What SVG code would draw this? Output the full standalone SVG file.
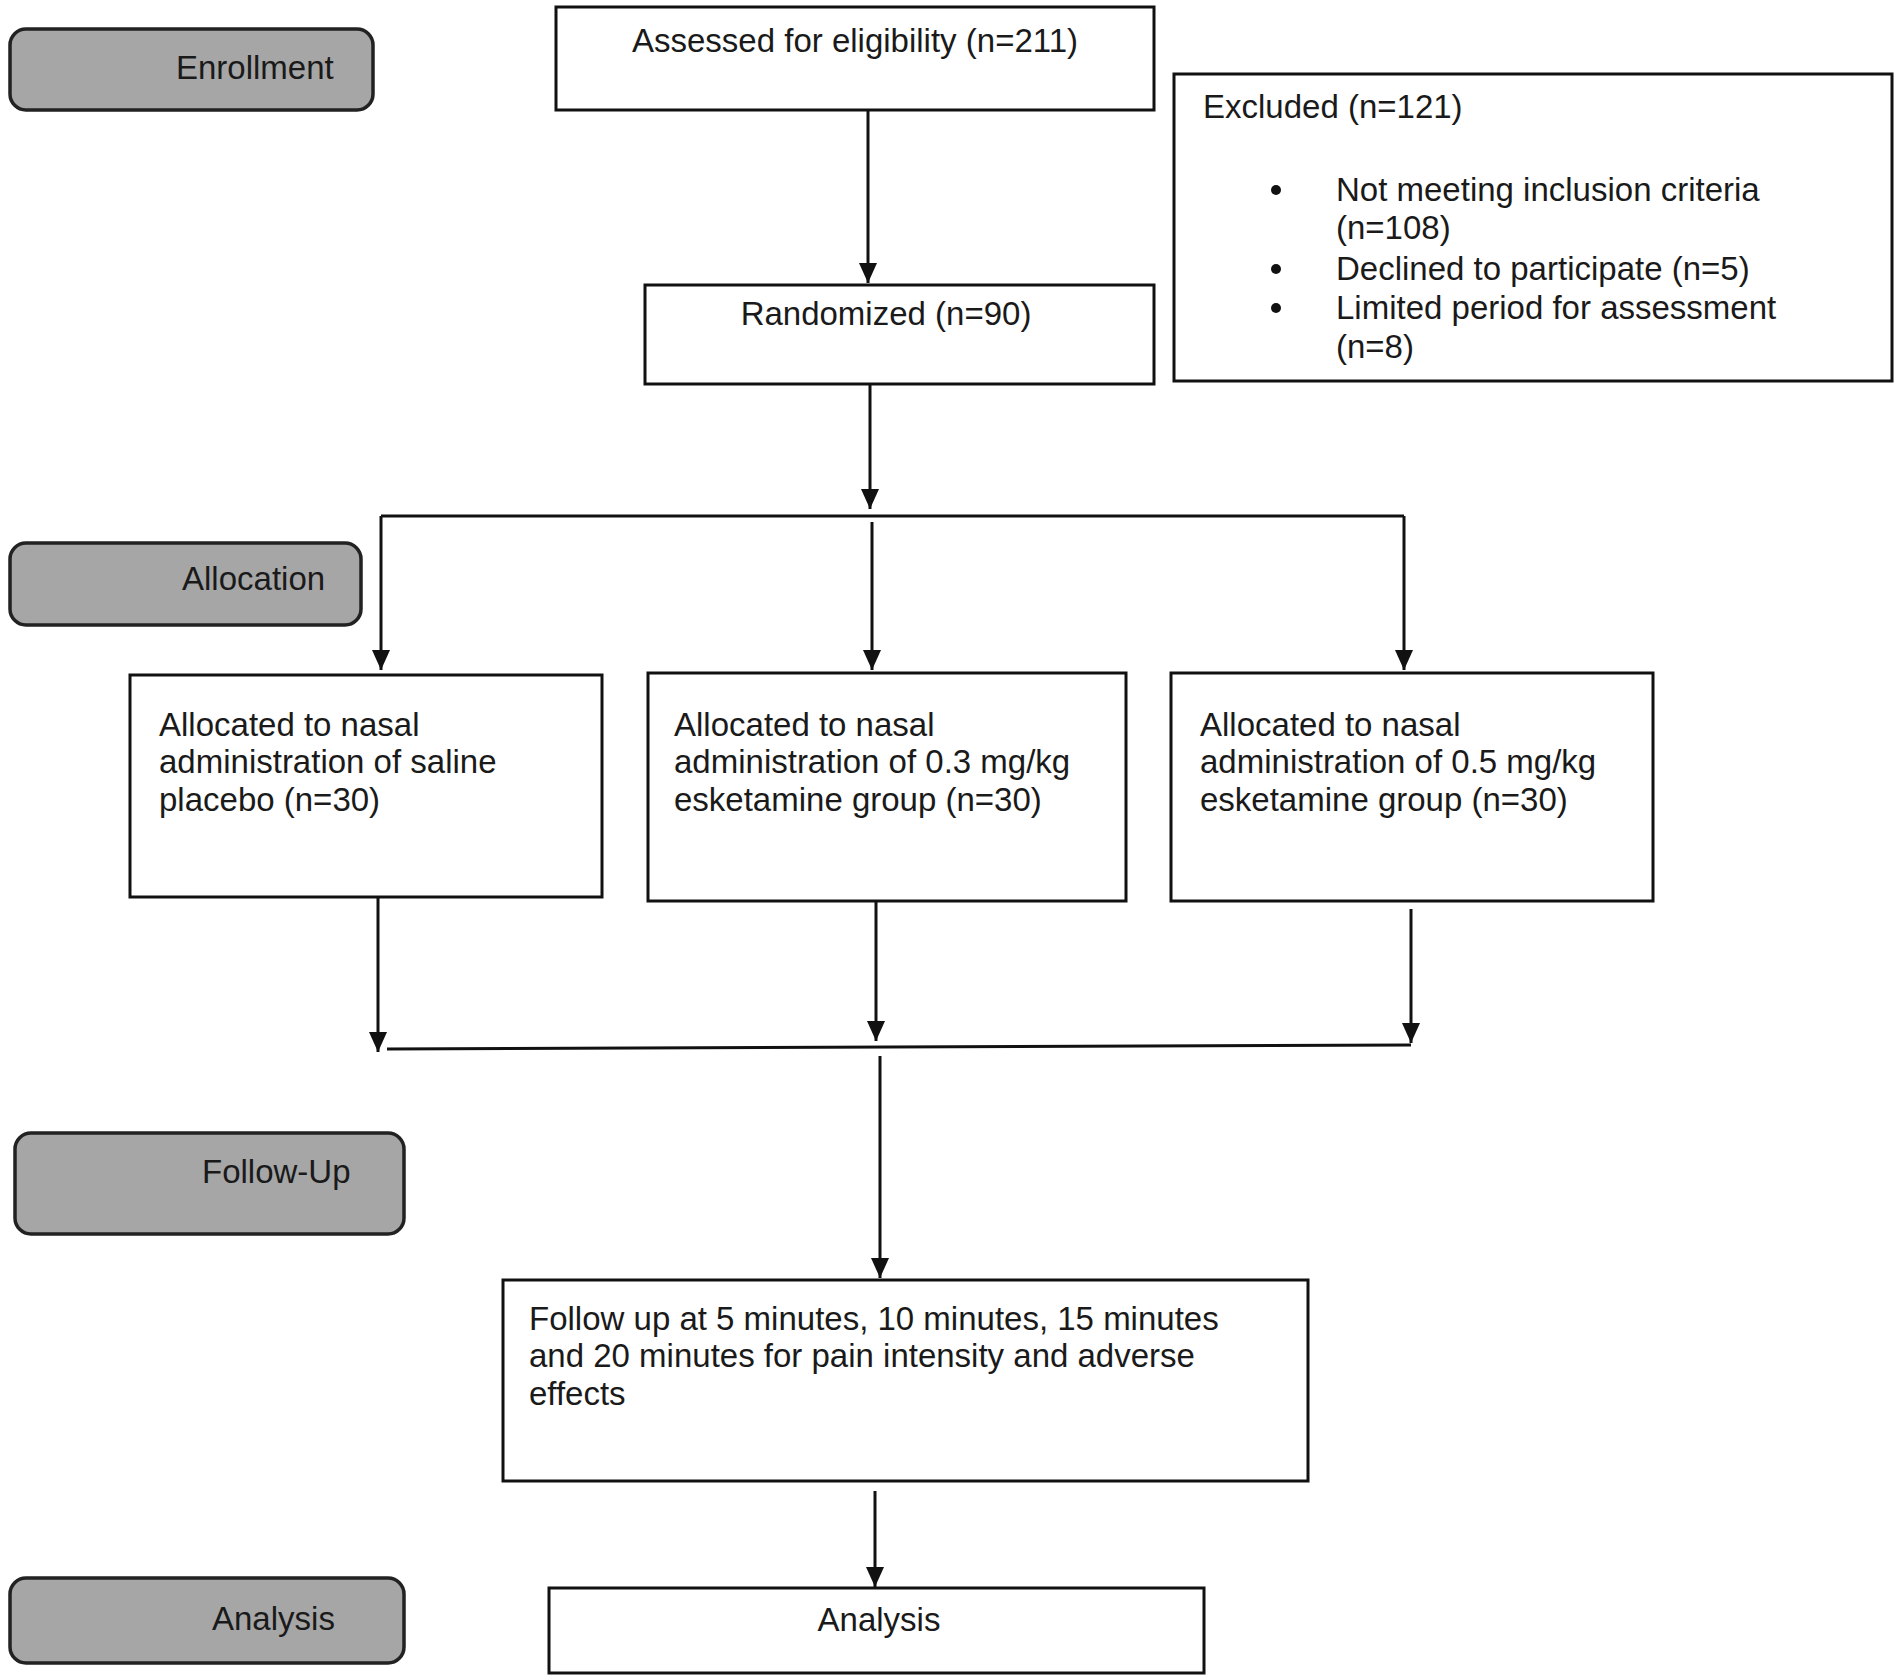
<svg xmlns="http://www.w3.org/2000/svg" width="1897" height="1679" viewBox="0 0 1897 1679">
<defs>
<marker id="arr" viewBox="0 0 20 18" refX="20" refY="9" markerWidth="20" markerHeight="18" markerUnits="userSpaceOnUse" orient="auto">
<path d="M0,0 L20,9 L0,18 z" fill="#111"/>
</marker>
<style>
.pill{fill:#a6a6a6;stroke:#222;stroke-width:3.5}
.box{fill:#fff;stroke:#111;stroke-width:3}
.t{font-family:"Liberation Sans",Arial,sans-serif;font-size:33px;fill:#1a1a1a}
.c{text-anchor:middle}
.ln{stroke:#111;stroke-width:3;fill:none}
.ar{stroke:#111;stroke-width:3;fill:none;marker-end:url(#arr)}
</style>
</defs>
<rect width="1897" height="1679" fill="#fff"/>

<g id="phase-enrollment">
<rect class="pill" x="10" y="29" width="363" height="81" rx="16"/>
<text class="t" x="176" y="79">Enrollment</text>
</g>
<g id="phase-allocation">
<rect class="pill" x="10" y="543" width="351" height="82" rx="16"/>
<text class="t" x="182" y="590">Allocation</text>
</g>
<g id="phase-followup">
<rect class="pill" x="15" y="1133" width="389" height="101" rx="16"/>
<text class="t" x="202" y="1183">Follow-Up</text>
</g>
<g id="phase-analysis">
<rect class="pill" x="10" y="1578" width="394" height="85" rx="16"/>
<text class="t" x="212" y="1630">Analysis</text>
</g>

<g id="assessed">
<rect class="box" x="556" y="7" width="598" height="103"/>
<text class="t c" x="855" y="52">Assessed for eligibility (n=211)</text>
</g>
<g id="excluded">
<rect class="box" x="1174" y="74" width="718" height="307"/>
<text class="t" x="1203" y="118">Excluded (n=121)</text>
<circle cx="1276" cy="190" r="5" fill="#111"/>
<text class="t" x="1336" y="201">Not meeting inclusion criteria</text>
<text class="t" x="1336" y="239">(n=108)</text>
<circle cx="1276" cy="269" r="5" fill="#111"/>
<text class="t" x="1336" y="280">Declined to participate (n=5)</text>
<circle cx="1276" cy="308" r="5" fill="#111"/>
<text class="t" x="1336" y="319">Limited period for assessment</text>
<text class="t" x="1336" y="358">(n=8)</text>
</g>
<g id="randomized">
<rect class="box" x="645" y="285" width="509" height="99"/>
<text class="t c" x="886" y="325">Randomized (n=90)</text>
</g>
<g id="alloc-saline">
<rect class="box" x="130" y="675" width="472" height="222"/>
<text class="t" x="159" y="736">Allocated to nasal</text>
<text class="t" x="159" y="773">administration of saline</text>
<text class="t" x="159" y="811">placebo (n=30)</text>
</g>
<g id="alloc-03">
<rect class="box" x="648" y="673" width="478" height="228"/>
<text class="t" x="674" y="736">Allocated to nasal</text>
<text class="t" x="674" y="773">administration of 0.3 mg/kg</text>
<text class="t" x="674" y="811">esketamine group (n=30)</text>
</g>
<g id="alloc-05">
<rect class="box" x="1171" y="673" width="482" height="228"/>
<text class="t" x="1200" y="736">Allocated to nasal</text>
<text class="t" x="1200" y="773">administration of 0.5 mg/kg</text>
<text class="t" x="1200" y="811">esketamine group (n=30)</text>
</g>
<g id="followup">
<rect class="box" x="503" y="1280" width="805" height="201"/>
<text class="t" x="529" y="1330">Follow up at 5 minutes,  10 minutes, 15 minutes</text>
<text class="t" x="529" y="1367">and 20 minutes for pain intensity and adverse</text>
<text class="t" x="529" y="1405">effects</text>
</g>
<g id="analysis">
<rect class="box" x="549" y="1588" width="655" height="85"/>
<text class="t c" x="879" y="1631">Analysis</text>
</g>

<g id="connectors">
<line class="ar" x1="868" y1="110" x2="868" y2="283"/>
<line class="ar" x1="870" y1="384" x2="870" y2="509"/>
<line class="ln" x1="381" y1="516" x2="1404" y2="516"/>
<line class="ar" x1="381" y1="516" x2="381" y2="670"/>
<line class="ar" x1="872" y1="522" x2="872" y2="670"/>
<line class="ar" x1="1404" y1="516" x2="1404" y2="670"/>
<line class="ar" x1="378" y1="897" x2="378" y2="1052"/>
<line class="ar" x1="876" y1="901" x2="876" y2="1041"/>
<line class="ar" x1="1411" y1="909" x2="1411" y2="1043"/>
<line class="ln" x1="387" y1="1049" x2="1411" y2="1045"/>
<line class="ar" x1="880" y1="1056" x2="880" y2="1278"/>
<line class="ar" x1="875" y1="1491" x2="875" y2="1587"/>
</g>
</svg>
